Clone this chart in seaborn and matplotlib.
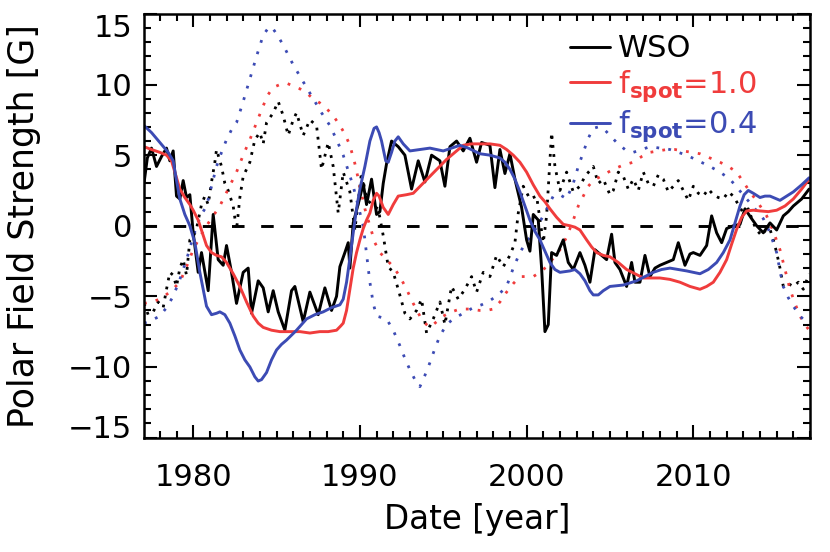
import numpy as np
import pandas as pd
import matplotlib
matplotlib.use("Agg")
import matplotlib.pyplot as plt
from matplotlib.ticker import MultipleLocator, FixedLocator
from matplotlib.lines import Line2D
import seaborn as sns

# ---------------- data ----------------
wso_n_year = [1977.05, 1977.25, 1977.5, 1977.8, 1978.1, 1978.4, 1978.6, 1978.8, 1979.0, 1979.2,
              1979.4, 1979.6, 1979.8, 1980.0, 1980.3, 1980.5, 1980.9, 1981.2, 1981.5, 1981.8,
              1982.0, 1982.3, 1982.6, 1983.0, 1983.3, 1983.5, 1983.9, 1984.2, 1984.5, 1984.8,
              1985.1, 1985.5, 1985.9, 1986.1, 1986.6, 1987.0, 1987.5, 1987.9, 1988.3, 1988.6,
              1988.8, 1989.1, 1989.3, 1989.4, 1989.6, 1990.0, 1990.2, 1990.4, 1990.7, 1991.0,
              1991.2, 1991.4, 1991.6, 1991.9, 1992.3, 1992.7, 1993.1, 1993.5, 1993.9, 1994.3,
              1994.8, 1995.1, 1995.4, 1995.8, 1996.2, 1996.6, 1997.0, 1997.3, 1997.8, 1998.1,
              1998.4, 1998.7, 1999.0, 1999.3, 1999.7, 2000.0, 2000.2, 2000.4, 2000.7, 2000.9,
              2001.1, 2001.3, 2001.5, 2001.8, 2002.2, 2002.5, 2002.8, 2003.2, 2003.5, 2003.8,
              2004.1, 2004.4, 2004.8, 2005.1, 2005.3, 2005.6, 2006.0, 2006.3, 2006.5, 2006.8,
              2007.1, 2007.4, 2007.7, 2008.0, 2008.4, 2008.8, 2009.1, 2009.5, 2009.8, 2010.0,
              2010.4, 2010.8, 2011.1, 2011.4, 2011.7, 2012.0, 2012.4, 2012.8, 2013.1, 2013.5,
              2013.8, 2014.2, 2014.6, 2015.0, 2015.4, 2015.7, 2016.0, 2016.5, 2016.95]
wso_n_val = [3.0, 4.8, 5.5, 4.2, 4.9, 5.5, 4.6, 5.3, 2.1, 1.9,
             3.2, 2.0, 2.2, -0.5, -3.3, -1.9, -4.6, 0.8, -2.4, -2.8,
             -1.4, -3.3, -5.5, -3.3, -3.0, -6.2, -3.9, -4.4, -6.1, -4.6,
             -6.1, -7.4, -4.6, -4.3, -6.8, -4.7, -6.3, -4.4, -6.0, -5.0,
             -2.9, -1.9, -1.2, -3.0, 0.2, 2.0, 3.0, 1.5, 3.3, 0.8,
             1.0, 3.0, 4.4, 6.0, 5.6, 5.0, 2.6, 4.6, 3.1, 5.0,
             4.6, 2.8, 5.6, 6.0, 5.3, 6.2, 4.5, 5.9, 5.7, 2.7,
             5.4, 3.7, 5.1, 3.3, 1.3, -1.0, -1.8, 0.8, 0.4, -3.0,
             -7.5, -7.0, -1.9, -2.1, -1.0, -2.6, -3.1, -1.9, -2.8, -4.0,
             -1.7, -2.0, -2.4, -0.6, -2.6, -3.1, -4.3, -2.6, -4.0, -4.0,
             -2.1, -3.6, -3.0, -2.8, -2.6, -2.4, -1.2, -2.8, -2.0, -1.9,
             -2.1, -1.4, 0.7, -0.5, -1.2, -0.2, 0.0, 0.1, 1.2, 0.5,
             0.0, -0.5, 0.2, -0.3, 0.7, 1.0, 1.4, 1.9, 2.6]

wso_s_year = [1977.05, 1977.3, 1977.6, 1977.9, 1978.2, 1978.4, 1978.6, 1978.8, 1979.0, 1979.2,
              1979.4, 1979.6, 1979.8, 1980.0, 1980.2, 1980.5, 1980.7, 1980.9, 1981.1, 1981.3,
              1981.4, 1981.7, 1981.9, 1982.1, 1982.4, 1982.6, 1982.8, 1983.0, 1983.4, 1983.7,
              1984.0, 1984.2, 1984.4, 1984.8, 1985.1, 1985.4, 1985.7, 1986.0, 1986.2, 1986.6,
              1987.0, 1987.4, 1987.7, 1988.1, 1988.4, 1988.7, 1989.0, 1989.4, 1989.7, 1990.1,
              1990.4, 1990.8, 1991.1, 1991.4, 1991.7, 1992.0, 1992.3, 1992.7, 1993.0, 1993.4,
              1993.7, 1994.0, 1994.4, 1994.8, 1995.1, 1995.5, 1995.9, 1996.3, 1996.7, 1997.0,
              1997.4, 1997.8, 1998.2, 1998.6, 1999.0, 1999.3, 1999.5, 1999.8, 2000.2, 2000.6,
              2001.0, 2001.2, 2001.5, 2001.7, 2002.0, 2002.4, 2002.8, 2003.2, 2003.5, 2004.0,
              2004.3, 2004.6, 2005.0, 2005.2, 2005.5, 2005.8, 2006.1, 2006.4, 2006.7, 2007.0,
              2007.3, 2007.6, 2007.9, 2008.2, 2008.5, 2008.8, 2009.1, 2009.4, 2009.7, 2010.0,
              2010.3, 2010.6, 2010.9, 2011.2, 2011.5, 2011.8, 2012.1, 2012.4, 2012.7, 2013.0,
              2013.3, 2013.6, 2013.8, 2014.1, 2014.4, 2014.6, 2014.8, 2015.0, 2015.2, 2015.4,
              2015.7, 2016.0, 2016.3, 2016.6, 2016.95]
wso_s_val = [-5.5, -6.3, -6.1, -5.4, -5.8, -4.5, -3.3, -3.5, -4.3, -3.0,
             -2.4, -3.5, -1.0, -0.8, -0.2, 1.5, 2.1, 1.5, 3.1, 4.5,
             5.4, 4.2, 3.0, 2.5, 1.4, -0.3, 2.0, 3.5, 4.5, 6.1,
             6.6, 5.8, 7.3, 8.0, 8.8, 7.8, 6.4, 7.5, 8.0, 6.4,
             7.5, 7.1, 4.0, 5.9, 4.2, 0.9, 3.8, 2.4, -0.3, 3.8,
             1.9, 1.4, 1.2, -0.7, -2.9, -3.3, -4.5, -6.2, -6.6, -6.0,
             -5.2, -7.6, -6.6, -5.4, -7.0, -4.3, -5.2, -4.5, -3.6, -4.7,
             -3.3, -3.6, -2.1, -2.9, -2.1, -1.2, 0.9, 2.8, 1.9, 2.1,
             -1.2, 0.7, 6.6, 4.2, 2.5, 3.8, 2.4, 2.8, 3.5, 4.2,
             3.0, 3.3, 2.2, 2.5, 3.8, 3.5, 2.6, 3.3, 2.5, 3.8,
             3.0, 2.8, 3.6, 3.3, 2.4, 2.8, 3.2, 2.5, 1.8, 2.8,
             2.3, 2.1, 2.6, 2.2, 2.0, 1.9, 2.4, 2.1, 1.5, 0.9,
             1.2, 0.2, -0.3, -0.7, -0.2, -0.25, -1.0, -1.9, -3.0, -4.3,
             -4.1, -4.3, -4.0, -4.5, -3.4]

f10_n_year = [1977.05, 1977.5, 1978.0, 1978.4, 1978.7, 1978.9, 1979.2, 1979.5, 1979.8, 1980.0,
              1980.3, 1980.55, 1980.8, 1981.1, 1981.4, 1981.7, 1982.0, 1982.4, 1982.8, 1983.2,
              1983.6, 1983.9, 1984.2, 1984.7, 1985.2, 1985.8, 1986.4, 1987.0, 1987.6, 1988.1,
              1988.6, 1988.85, 1989.0, 1989.2, 1989.4, 1989.6, 1989.8, 1990.0, 1990.2, 1990.4,
              1990.6, 1990.8, 1991.0, 1991.15, 1991.4, 1991.7, 1992.0, 1992.3, 1992.8, 1993.2,
              1993.7, 1994.2, 1994.7, 1995.2, 1995.7, 1996.2, 1996.7, 1997.2, 1997.8, 1998.4,
              1998.8, 1999.2, 1999.6, 2000.0, 2000.4, 2000.8, 2001.1, 2001.4, 2001.8, 2002.2,
              2002.6, 2002.9, 2003.2, 2003.6, 2003.9, 2004.2, 2004.6, 2005.0, 2005.5, 2006.0,
              2006.5, 2007.0, 2008.0, 2008.6, 2009.2, 2009.8, 2010.4, 2010.8, 2011.2, 2011.6,
              2012.0, 2012.3, 2012.6, 2012.9, 2013.2, 2013.6, 2014.0, 2014.5, 2015.0, 2015.5,
              2016.0, 2016.5, 2016.95]
f10_n_val = [5.6, 5.4, 5.2, 5.0, 4.6, 3.8, 2.6, 2.0, 1.5, 1.1,
             0.4, -0.5, -1.4, -1.9, -2.1, -2.2, -2.6, -3.4, -4.3, -5.4,
             -6.4, -6.9, -7.2, -7.4, -7.5, -7.5, -7.5, -7.6, -7.5, -7.5,
             -7.4, -7.1, -6.9, -6.0, -4.5, -3.0, -1.9, -1.0, -0.2, 0.4,
             0.9, 1.8, 2.3, 2.1, 1.3, 0.8, 1.5, 2.1, 2.2, 2.3,
             2.9, 3.5, 4.1, 4.7, 5.2, 5.7, 5.8, 5.8, 5.8, 5.7,
             5.4, 5.0, 4.5, 3.8, 2.9, 2.1, 1.7, 1.2, 0.6, 0.1,
             0.0, -0.1, -0.3, -1.0, -1.5, -1.9, -2.1, -2.2, -2.6, -3.1,
             -3.4, -3.7, -3.7, -3.8, -4.0, -4.3, -4.5, -4.3, -4.0, -3.3,
             -2.4, -1.3, -0.25, 0.6, 1.05, 1.1, 1.05, 1.0, 1.1, 1.4,
             1.9, 2.6, 3.3]

f10_s_year = [1977.05, 1977.5, 1978.0, 1978.6, 1979.2, 1979.6, 1980.0, 1980.4, 1980.8, 1981.2,
              1981.6, 1982.1, 1982.6, 1983.0, 1983.4, 1983.8, 1984.2, 1984.5, 1984.8, 1985.2,
              1985.6, 1986.0, 1986.4, 1986.8, 1987.2, 1987.6, 1988.0, 1988.4, 1988.8, 1989.1,
              1989.4, 1989.7, 1990.0, 1990.3, 1990.6, 1990.9, 1991.2, 1991.6, 1992.0, 1992.4,
              1992.8, 1993.2, 1993.6, 1993.9, 1994.2, 1994.6, 1995.0, 1995.5, 1996.0, 1996.6,
              1997.2, 1997.6, 1998.0, 1998.4, 1998.8, 1999.2, 1999.6, 2000.0, 2000.4, 2000.8,
              2001.2, 2001.6, 2002.0, 2002.4, 2002.8, 2003.1, 2003.4, 2003.7, 2004.0, 2004.6,
              2005.2, 2005.8, 2006.4, 2006.9, 2007.4, 2007.9, 2008.4, 2008.9, 2009.4, 2009.9,
              2010.4, 2011.0, 2011.6, 2012.1, 2012.6, 2013.0, 2013.4, 2013.9, 2014.4, 2014.8,
              2015.2, 2015.5, 2015.8, 2016.1, 2016.4, 2016.7, 2016.95]
f10_s_val = [-5.5, -5.4, -5.2, -4.7, -4.0, -2.9, -1.7, -0.8, 0.0, 0.7,
             1.4, 2.6, 3.8, 5.0, 6.1, 7.3, 8.5, 9.3, 9.8, 10.0,
             10.1, 9.9, 9.7, 9.4, 9.0, 8.7, 8.3, 7.8, 7.1, 6.5,
             5.7, 4.4, 2.8, 1.2, 0.0, -1.2, -1.9, -2.4, -2.9, -3.6,
             -4.5, -5.5, -6.4, -6.9, -7.2, -6.8, -6.4, -6.1, -5.9, -5.9,
             -6.0, -6.0, -5.9, -5.4, -4.7, -4.1, -3.6, -3.6, -3.6, -3.3,
             -2.9, -2.3, -1.7, -0.8, 0.4, 1.4, 2.1, 2.8, 3.2, 3.6,
             4.0, 4.3, 4.5, 4.9, 5.2, 5.3, 5.4, 5.4, 5.3, 5.2,
             5.1, 4.8, 4.5, 4.2, 3.8, 3.1, 2.4, 1.6, 0.7, -0.4,
             -1.7, -3.1, -4.5, -5.5, -6.4, -7.0, -7.4]

f04_n_year = [1977.05, 1977.5, 1978.0, 1978.5, 1978.8, 1979.0, 1979.2, 1979.5, 1979.8, 1980.1,
              1980.4, 1980.8, 1981.1, 1981.4, 1981.6, 1981.9, 1982.2, 1982.5, 1982.8, 1983.1,
              1983.4, 1983.7, 1983.9, 1984.1, 1984.4, 1984.7, 1985.0, 1985.3, 1985.6, 1986.2,
              1986.8, 1987.3, 1987.8, 1988.3, 1988.8, 1989.0, 1989.2, 1989.4, 1989.6, 1989.8,
              1990.0, 1990.3, 1990.6, 1990.85, 1991.0, 1991.15, 1991.3, 1991.55, 1991.7, 1991.9,
              1992.1, 1992.3, 1992.6, 1993.0, 1993.6, 1994.2, 1994.6, 1995.0, 1995.5, 1996.0,
              1996.5, 1997.2, 1997.8, 1998.4, 1998.7, 1999.0, 1999.3, 1999.6, 1999.9, 2000.2,
              2000.5, 2000.8, 2001.1, 2001.4, 2001.7, 2002.0, 2002.6, 2002.9, 2003.2, 2003.5,
              2003.8, 2004.0, 2004.3, 2004.6, 2005.0, 2005.8, 2006.6, 2007.1, 2007.6, 2008.1,
              2008.6, 2009.1, 2009.6, 2010.0, 2010.4, 2010.9, 2011.4, 2011.8, 2012.2, 2012.5,
              2012.8, 2013.05, 2013.3, 2013.6, 2014.0, 2014.3, 2014.6, 2015.0, 2015.2, 2015.6,
              2016.0, 2016.5, 2016.95]
f04_n_val = [7.1, 6.6, 5.9, 5.2, 4.6, 3.2, 1.9, 0.8, 0.0, -1.2,
             -3.3, -5.7, -6.3, -6.2, -6.1, -6.3, -6.9, -7.8, -8.8, -9.5,
             -10.0, -10.7, -11.0, -10.9, -10.4, -9.5, -8.8, -8.4, -8.1, -7.4,
             -6.6, -6.3, -6.1, -5.8, -5.6, -5.2, -4.0, -2.3, -0.5, 1.2,
             2.6, 4.2, 6.0, 6.9, 7.0, 6.6, 6.0, 4.6, 4.5, 5.2,
             6.0, 6.3, 5.8, 5.3, 5.4, 5.5, 5.4, 5.3, 5.5, 5.7,
             5.5, 5.1, 5.0, 4.8, 4.5, 4.0, 3.3, 2.4, 1.4, 0.4,
             -0.4, -1.0, -1.8, -2.6, -3.1, -3.3, -3.2, -3.1, -3.4, -3.9,
             -4.6, -4.9, -4.9, -4.6, -4.3, -4.2, -3.9, -3.6, -3.3, -3.1,
             -3.0, -3.1, -3.2, -3.3, -3.4, -3.1, -2.6, -1.9, -1.0, 0.2,
             1.4, 2.2, 2.5, 2.3, 2.0, 2.1, 2.1, 1.9, 1.8, 2.1,
             2.4, 2.9, 3.4]

f04_s_year = [1977.05, 1977.5, 1978.0, 1978.4, 1978.8, 1979.2, 1979.6, 1979.9, 1980.2, 1980.5,
              1980.8, 1981.1, 1981.4, 1981.7, 1982.0, 1982.3, 1982.6, 1983.0, 1983.4, 1983.8,
              1984.2, 1984.5, 1984.7, 1985.0, 1985.4, 1985.7, 1986.0, 1986.6, 1987.2, 1987.7,
              1988.2, 1988.6, 1989.0, 1989.3, 1989.6, 1989.9, 1990.2, 1990.4, 1990.6, 1990.8,
              1991.0, 1991.6, 1992.0, 1992.4, 1992.7, 1993.0, 1993.3, 1993.6, 1993.9, 1994.2,
              1994.5, 1994.8, 1995.2, 1995.6, 1996.2, 1996.8, 1997.3, 1997.8, 1998.3, 1998.8,
              1999.2, 1999.6, 2000.0, 2000.4, 2001.0, 2001.6, 2002.0, 2002.4, 2002.8, 2003.1,
              2003.4, 2003.7, 2004.0, 2004.3, 2004.6, 2005.0, 2005.4, 2005.9, 2006.4, 2006.9,
              2007.4, 2008.0, 2008.6, 2009.1, 2009.6, 2010.3, 2011.0, 2011.6, 2012.2, 2012.7,
              2013.2, 2013.7, 2014.2, 2014.6, 2015.0, 2015.2, 2015.4, 2015.7, 2016.0, 2016.4,
              2016.95]
f04_s_val = [-6.9, -6.7, -6.4, -5.8, -5.0, -3.8, -2.4, -1.2, 0.0, 0.8,
             1.4, 2.8, 4.2, 5.2, 6.1, 6.8, 7.3, 8.8, 10.4, 12.0,
             13.5, 14.0, 14.1, 13.6, 12.8, 12.1, 11.4, 10.2, 9.0, 8.0,
             7.1, 6.1, 5.0, 3.9, 2.8, 1.4, 0.0, -2.0, -4.0, -5.5,
             -6.4, -6.6, -7.4, -8.5, -9.4, -10.2, -10.9, -11.4, -10.6, -9.7,
             -8.7, -7.8, -7.0, -6.6, -6.2, -5.8, -5.6, -5.3, -4.9, -4.3,
             -3.0, -1.9, -1.1, -0.5, 0.7, 2.1, 2.2, 1.9, 3.0, 4.2,
             5.2, 6.2, 6.9, 7.0, 6.9, 6.4, 5.9, 5.4, 5.2, 5.4,
             5.6, 5.5, 5.4, 5.2, 5.0, 4.6, 4.2, 3.8, 3.3, 2.6,
             1.9, 1.2, 0.5, -0.5, -1.9, -3.2, -4.3, -5.1, -5.7, -6.4,
             -7.0]

legend_labels = ["WSO", r"f$_{\mathbf{spot}}$=1.0", r"f$_{\mathbf{spot}}$=0.4"]
y_ticks = [-15, -10, -5, 0, 5, 10, 15]
x_ticks = [1980, 1990, 2000, 2010]

# ---------------- styling ----------------
sns.set_theme(style="ticks")
plt.rcParams["font.family"] = ["DejaVu Sans"]
plt.rcParams["mathtext.fontset"] = "dejavusans"

BLACK = "#000000"
RED = "#F03C3C"
BLUE = "#3C4BB4"
FS = 22
LW = 2.1
LW_DOT = 2.0
DOT_MODEL = (0, (1.0, 3.3))
DOT_WSO = (0, (1.0, 2.3))

fig = plt.figure(figsize=(8.3, 5.52), dpi=100)
ax = fig.add_axes([144 / 830, 1 - 437.5 / 552, 666 / 830, 423.5 / 552])

def draw(xs, ys, color, ls, lw):
    df = pd.DataFrame({"year": xs, "B": ys})
    sns.lineplot(data=df, x="year", y="B", ax=ax, color=color, linewidth=lw,
                 linestyle=ls, estimator=None, sort=False, legend=False)

draw(wso_s_year, wso_s_val, BLACK, DOT_WSO, LW_DOT)
draw(f10_s_year, f10_s_val, RED, DOT_MODEL, LW_DOT)
draw(f04_s_year, f04_s_val, BLUE, DOT_MODEL, LW_DOT)
draw(wso_n_year, wso_n_val, BLACK, "-", LW)
draw(f10_n_year, f10_n_val, RED, "-", LW)
draw(f04_n_year, f04_n_val, BLUE, "-", LW)

ax.axhline(0, color=BLACK, lw=LW, linestyle=(0, (4.3, 5.7)), zorder=1)

ax.set_xlim(1977.05, 2017.0)
ax.set_ylim(-15, 15)
ax.xaxis.set_major_locator(FixedLocator(x_ticks))
ax.yaxis.set_major_locator(FixedLocator(y_ticks))
ax.xaxis.set_minor_locator(MultipleLocator(1))
ax.yaxis.set_minor_locator(MultipleLocator(1))
ax.set_xticklabels([str(v) for v in x_ticks])
ax.set_yticklabels([("\u2212" + str(-v)) if v < 0 else str(v) for v in y_ticks])

ax.tick_params(which="both", direction="in", top=True, right=True, width=1.5,
               color=BLACK, labelsize=FS, labelcolor=BLACK)
ax.tick_params(which="major", length=9.5)
ax.tick_params(which="minor", length=5)
ax.tick_params(axis="x", which="major", pad=18.5)
ax.tick_params(axis="y", which="major", pad=8.3)
for s in ax.spines.values():
    s.set_linewidth(1.8)
    s.set_color(BLACK)
    s.set_visible(True)

ax.set_xlabel("Date [year]", fontsize=23.5, color=BLACK)
ax.set_ylabel("Polar Field Strength [G]", fontsize=25, color=BLACK)
ax.xaxis.set_label_coords(0.5, -0.155)
ax.yaxis.set_label_coords(-0.155, 0.5)

# keep end labels inside the frame like the original
yt = ax.yaxis.get_major_ticks()
yt[-1].label1.set_va("top")
yt[0].label1.set_va("baseline")

handles = [Line2D([], [], color=c, lw=LW) for c in (BLACK, RED, BLUE)]
leg = ax.legend(handles, legend_labels, loc="upper left", bbox_to_anchor=(0.6396, 0.952),
                frameon=False, fontsize=FS, handlelength=1.3, handletextpad=0.27,
                borderpad=0, borderaxespad=0, labelspacing=0.15,
                labelcolor="linecolor")

fig.savefig("out.png", dpi=100)
